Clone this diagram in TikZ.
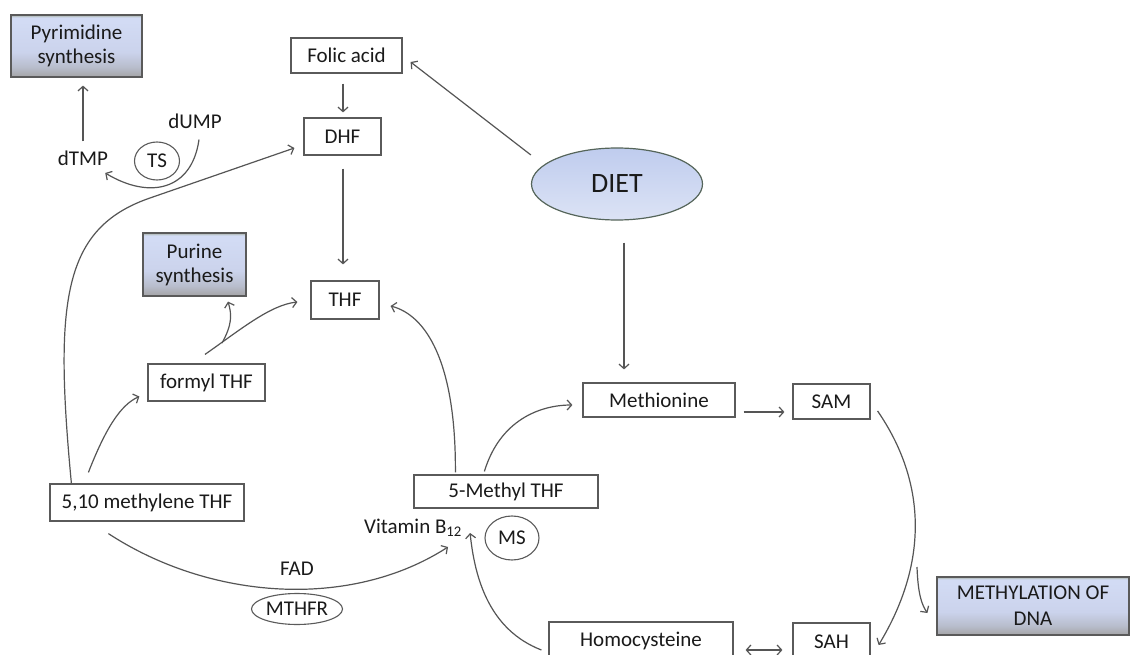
\documentclass[tikz,border=0pt]{standalone}
\usepackage{fontspec}
\setmainfont{Carlito}
\usetikzlibrary{arrows.meta,shapes.geometric,calc}
\definecolor{ln}{HTML}{555555}
\definecolor{boxc}{HTML}{5A5A5A}
\definecolor{txt}{HTML}{1A1A1A}
\definecolor{gtop}{HTML}{D2DBF4}
\definecolor{gmid}{HTML}{CBD3EC}
\definecolor{glow}{HTML}{B8BDCC}
\definecolor{gbot}{HTML}{A4A4A6}
\definecolor{gedge}{HTML}{A8B2A6}
\definecolor{dtop}{HTML}{BFCCEE}
\definecolor{dbot}{HTML}{DCE3F5}
\definecolor{dedge}{HTML}{55655A}
\pgfdeclareverticalshading{boxshade}{100bp}{color(0bp)=(gbot); color(25bp)=(gbot); color(33bp)=(glow); color(45bp)=(gmid); color(70bp)=(gtop); color(73bp)=(gtop); color(75bp)=(gedge); color(100bp)=(gedge)}
\begin{document}
\begin{tikzpicture}[x=1pt,y=-1pt,
  box/.style={draw=boxc, line width=1.2pt, fill=white, inner sep=0pt, text=txt,
    font=\fontsize{21}{24}\selectfont},
  gbox/.style={box, shading=boxshade, shading angle=0, align=center},
  enz/.style={ellipse, draw=boxc, line width=1.1pt, inner sep=0pt, text=txt,
    font=\fontsize{21}{24}\selectfont},
  lbl/.style={text=txt, inner sep=1pt, font=\fontsize{21}{24}\selectfont},
  arr/.style={draw=ln, line width=1.2pt, -{Straight Barb[length=4.5pt,width=10pt]}},
  darr/.style={draw=ln, line width=1.2pt, {Straight Barb[length=4.5pt,width=10pt]}-{Straight Barb[length=4.5pt,width=10pt]}},
]
\clip (0,0) rectangle (1130,655);
\useasboundingbox (0,0) rectangle (1130,655);
\fill[white] (0,0) rectangle (1130,655);

% nodes
\node[gbox, minimum width=131pt, minimum height=62pt] (pyr) at (76.5,46) {Pyrimidine\\synthesis};
\node[box, minimum width=111pt, minimum height=35pt] (folic) at (346.5,55.5) {Folic acid};
\node[box, minimum width=77pt, minimum height=37pt] (dhf) at (342.5,136.5) {DHF};
\node[lbl] (dump) at (195,121) {dUMP};
\node[lbl] (dtmp) at (83,158) {dTMP};
\node[enz, minimum width=45pt, minimum height=38pt] (ts) at (157,161) {TS};
\node[gbox, minimum width=103pt, minimum height=63pt] (purine) at (194.5,264.5) {Purine\\synthesis};
\node[box, minimum width=68pt, minimum height=38pt] (thf) at (345,300) {THF};
\node[box, minimum width=117pt, minimum height=37pt] (formyl) at (206.5,382.5) {formyl THF};
\node[box, minimum width=194pt, minimum height=37pt] (m510) at (147,502.5) {5,10 methylene THF};
\node[ellipse, draw=dedge, line width=1.2pt, top color=dtop, bottom color=dbot, inner sep=0pt,
  minimum width=171pt, minimum height=72pt, text=txt, font=\fontsize{28}{30}\selectfont] (diet) at (617,184) {DIET};
\node[box, minimum width=152pt, minimum height=34pt] (methio) at (659,400) {Methionine};
\node[box, minimum width=77pt, minimum height=35pt] (sam) at (831.5,401.5) {SAM};
\node[gbox, minimum width=192pt, minimum height=58pt, font=\fontsize{21}{26}\selectfont] (dnam) at (1033,606) {METHYLATION OF\\DNA};
\node[box, minimum width=77pt, minimum height=37pt] (sah) at (831.5,641.5) {SAH};
\node[box, minimum width=184pt, minimum height=37pt] (homo) at (641,640.5) {Homocysteine};
\node[box, minimum width=184pt, minimum height=33pt] (m5) at (506,491.5) {5-Methyl THF};
\node[lbl] (vitb) at (413,528) {Vitamin B\textsubscript{12}};
\node[enz, minimum width=54pt, minimum height=44pt] (ms) at (512,538) {MS};
\node[lbl] (fad) at (297,569) {FAD};
\node[enz, minimum width=91pt, minimum height=31pt] (mthfr) at (297,609) {MTHFR};

% connectors
\draw[arr] (dtmp.north) ++(0,-8) -- ($(pyr.south)+(6.5,8)$);
\draw[arr] ($(dump.south)+(4,10)$) .. controls (192,190) and (150,200) .. ($(dtmp.east)+(-4,15)$);
\draw[arr] ($(m510.north west)+(22,0)$) .. controls (54,300) and (63,228) .. (150,198) -- ($(dhf.west)+(-9,11.5)$);
\draw[arr] ($(m510.north west)+(39,-11)$) .. controls (105,430) and (120,405) .. ($(formyl.west)+(-8,14)$);
\draw[arr] ($(formyl.north)+(-1.5,-9)$) .. controls (240,330) and (270,305) .. ($(thf.west)+(-13,2)$);
\draw[arr] (222,343) .. controls (232,325) and (232,315) .. ($(purine.south)+(33.5,5)$);
\draw[arr] ($(dhf.south)+(0.5,13)$) -- ($(thf.north)+(-2,-16)$);
\draw[arr] ($(folic.south)+(-3.5,10)$) -- ($(dhf.north)+(0.5,-5)$);
\draw[arr] ($(diet.west)+(0,-29)$) -- ($(folic.east)+(8,6.5)$);
\draw[arr] ($(diet.south)+(7,22)$) -- ($(methio.north)+(-35,-13)$);
\draw[arr] ($(methio.east)+(8,12)$) -- ($(sam.west)+(-8,10.5)$);
\draw[arr] ($(sam.east)+(7,9.5)$) .. controls (925,480) and (930,560) .. ($(sah.east)+(8,3.5)$);
\draw[arr] (917,567) .. controls (918,595) and (922,605) .. ($(dnam.west)+(-9,7)$);
\draw[darr] ($(homo.east)+(12,9.5)$) -- ($(sah.west)+(-10,8.5)$);
\draw[arr] ($(homo.west)+(-7,9.5)$) .. controls (490,630) and (475,580) .. ($(vitb.east)+(7,5)$);
\draw[arr] ($(m510.south west)+(59,12)$) .. controls (210,600) and (350,610) .. ($(vitb.south)+(35,9)$);
\draw[arr] ($(m5.north west)+(42,-2)$) .. controls (456,360) and (425,315) .. ($(thf.east)+(11,6)$);
\draw[arr] ($(m5.north west)+(71,-3)$) .. controls (500,420) and (540,405) .. ($(methio.west)+(-10,5)$);
\end{tikzpicture}
\end{document}
